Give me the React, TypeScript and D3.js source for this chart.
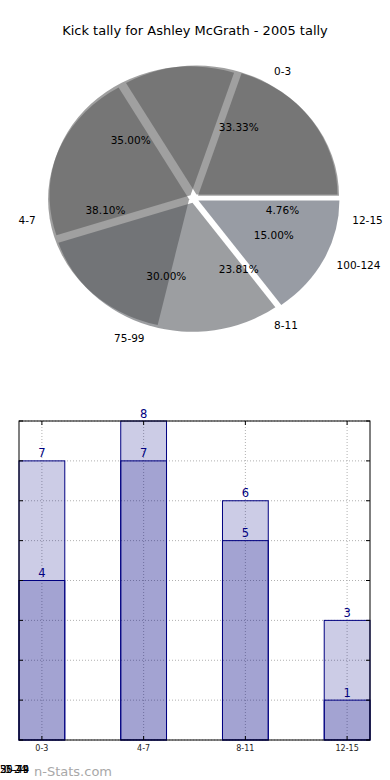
import React from "react";
import * as d3 from "d3";

const title = "Kick tally for Ashley McGrath - 2005 tally";

// Pie layer 1 (kick groups)
const pie1Labels = ["0-3", "4-7", "8-11", "12-15"];
const pie1Values = [7, 8, 5, 1];
const pie1Colors = ["#555555", "#555555", "none", "none"];
const pie1ShowPct = [true, true, true, true];

// Pie layer 2
const pie2Labels = ["", "", "75-99", "100-124"];
const pie2Values = [4, 7, 6, 3];
const pie2Colors = ["#555555", "#555555", "#4e5257", "#474f5c"];
const pie2ShowPct = [false, true, true, true];

// Bar chart
const barCategories = ["0-3", "4-7", "8-11", "12-15"];
const barLight = [7, 8, 6, 3];
const barDark = [4, 7, 5, 1];
const yTicks = [0, 1, 2, 3, 4, 5, 6, 7, 8];

const junkLabels = ["25-49", "50-74", "0-24"];

const FONT = "DejaVu Sans, Verdana, sans-serif";

const W = 390;
const H = 780;

// pie geometry
const cx = 194;
const cy = 198.5;
const rx = 141;
const ry = 129;
const explode = 0.035;
const alpha = 0.56;

const pieGen = d3
  .pie<number>()
  .sort(null)
  .startAngle(Math.PI / 2)
  .endAngle(Math.PI / 2 - 2 * Math.PI);

const arcGen = d3.arc<d3.PieArcDatum<number>>().innerRadius(0).outerRadius(1);

function PieWedges({ values, colors }: { values: number[]; colors: string[] }) {
  const arcs = pieGen(values);
  return (
    <g transform={`translate(${cx},${cy}) scale(${rx},${ry})`}>
      {arcs.map((a, i) => {
        const mid = (a.startAngle + a.endAngle) / 2;
        const dx = explode * Math.sin(mid);
        const dy = -explode * Math.cos(mid);
        return (
          <path
            key={i}
            d={arcGen(a) || ""}
            transform={`translate(${dx},${dy})`}
            fill={colors[i]}
            fillOpacity={colors[i] === "none" ? 0 : alpha}
            stroke="none"
          />
        );
      })}
    </g>
  );
}

function PieLabels({
  values,
  labels,
  showPct,
}: {
  values: number[];
  labels: string[];
  showPct: boolean[];
}) {
  const arcs = pieGen(values);
  const total = d3.sum(values);
  return (
    <g>
      {arcs.map((a, i) => {
        const mid = (a.startAngle + a.endAngle) / 2;
        const s = Math.sin(mid);
        const c = Math.cos(mid);
        const lx = cx + rx * (explode + 1.1) * s;
        const ly = cy - ry * (explode + 1.1) * c;
        const px = cx + rx * (explode + 0.6) * s;
        const py = cy - ry * (explode + 0.6) * c;
        const pct = ((values[i] / total) * 100).toFixed(2) + "%";
        return (
          <g key={"t" + i}>
            {labels[i] ? (
              <text
                x={lx}
                y={ly}
                dy="0.36em"
                textAnchor={s >= 0 ? "start" : "end"}
                fontSize={10.5}
                fontFamily={FONT}
                fill="#000"
              >
                {labels[i]}
              </text>
            ) : null}
            {showPct[i] ? (
              <text
                x={px}
                y={py}
                dy="0.36em"
                textAnchor="middle"
                fontSize={10.5}
                fontFamily={FONT}
                fill="#000"
              >
                {pct}
              </text>
            ) : null}
          </g>
        );
      })}
    </g>
  );
}

function BarChart() {
  const left = 19;
  const right = 370;
  const top = 421;
  const bottom = 740;
  const bw = 0.45;
  const x = d3.scaleLinear().domain([-bw / 2, barCategories.length - 1 + bw / 2]).range([left, right]);
  const y = d3.scaleLinear().domain([0, 8]).range([bottom, top]);
  const navy = "#000080";
  return (
    <g>
      {yTicks.map((t) => (
        <line
          key={"gy" + t}
          x1={left}
          x2={right}
          y1={y(t)}
          y2={y(t)}
          stroke="#b0b0b0"
          strokeWidth={1}
          strokeDasharray="1 2"
        />
      ))}
      {barCategories.map((c, i) => (
        <line
          key={"gx" + c}
          x1={x(i)}
          x2={x(i)}
          y1={top}
          y2={bottom}
          stroke="#b0b0b0"
          strokeWidth={1}
          strokeDasharray="1 2"
        />
      ))}
      {barLight.map((v, i) => (
        <rect
          key={"l" + i}
          x={x(i - bw / 2)}
          width={x(bw) - x(0)}
          y={y(v)}
          height={y(0) - y(v)}
          fill={navy}
          fillOpacity={0.2}
          stroke={navy}
          strokeWidth={1}
        />
      ))}
      {barDark.map((v, i) => (
        <rect
          key={"d" + i}
          x={x(i - bw / 2)}
          width={x(bw) - x(0)}
          y={y(v)}
          height={y(0) - y(v)}
          fill={navy}
          fillOpacity={0.2}
          stroke={navy}
          strokeWidth={1}
        />
      ))}
      {barLight.map((v, i) => (
        <text key={"tl" + i} x={x(i)} y={y(v) - 3.5} textAnchor="middle" fontSize={11.5} fontFamily={FONT} fill={navy}>
          {v}
        </text>
      ))}
      {barDark.map((v, i) => (
        <text key={"td" + i} x={x(i)} y={y(v) - 3.5} textAnchor="middle" fontSize={11.5} fontFamily={FONT} fill={navy}>
          {v}
        </text>
      ))}
      <rect x={left} y={top} width={right - left} height={bottom - top} fill="none" stroke="#000" strokeWidth={1} />
      {yTicks.map((t) => (
        <g key={"ty" + t}>
          <line x1={left} x2={left + 4} y1={y(t)} y2={y(t)} stroke="#000" strokeWidth={1} />
          <line x1={right - 4} x2={right} y1={y(t)} y2={y(t)} stroke="#000" strokeWidth={1} />
        </g>
      ))}
      {barCategories.map((c, i) => (
        <g key={"tx" + c}>
          <line x1={x(i)} x2={x(i)} y1={bottom} y2={bottom - 4} stroke="#000" strokeWidth={1} />
          <line x1={x(i)} x2={x(i)} y1={top} y2={top + 4} stroke="#000" strokeWidth={1} />
          <text x={x(i)} y={751} textAnchor="middle" fontSize={8} fontFamily={FONT} fill="#222">
            {c}
          </text>
        </g>
      ))}
    </g>
  );
}

export default function App() {
  return (
    <svg
      width={W}
      height={H}
      viewBox={`0 0 ${W} ${H}`}
      style={{ position: "absolute", left: 0, top: 0, background: "#fff" }}
    >
      <rect x={0} y={0} width={W} height={H} fill="#fff" />
      <text x={195} y={35} textAnchor="middle" fontSize={13} fontFamily={FONT} fill="#000">
        {title}
      </text>
      <PieWedges values={pie1Values} colors={pie1Colors} />
      <PieWedges values={pie2Values} colors={pie2Colors} />
      <PieLabels values={pie1Values} labels={pie1Labels} showPct={pie1ShowPct} />
      <PieLabels values={pie2Values} labels={pie2Labels} showPct={pie2ShowPct} />
      <BarChart />
      <text x={34} y={776} fontSize={13} fontFamily={FONT} fill="#a8a8a8">
        n-Stats.com
      </text>
      {junkLabels.map((t, i) => (
        <text key={t} x={i === 2 ? 4 : 0} y={773} fontSize={10} fontFamily={FONT} fill="#000">
          {t}
        </text>
      ))}
    </svg>
  );
}
